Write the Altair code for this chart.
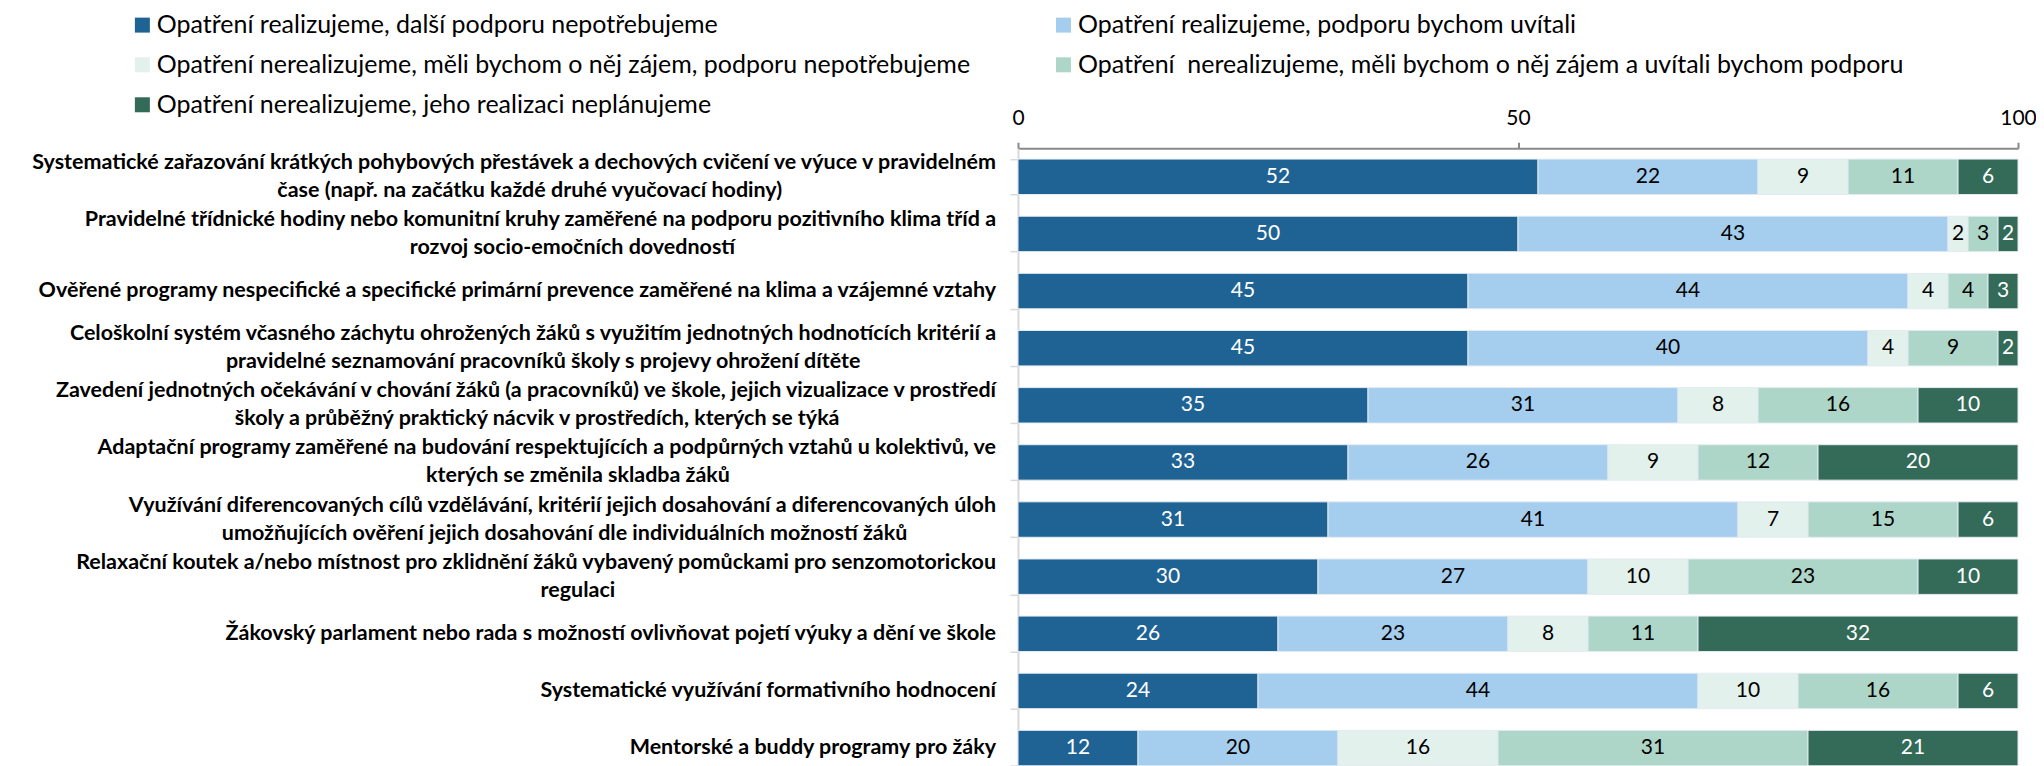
import altair as alt
import pandas as pd

categories = [
    "Systematické zařazování krátkých pohybových přestávek a dechových cvičení ve výuce v pravidelném|čase (např. na začátku každé druhé vyučovací hodiny)",
    "Pravidelné třídnické hodiny nebo komunitní kruhy zaměřené na podporu pozitivního klima tříd a|rozvoj socio-emočních dovedností",
    "Ověřené programy nespecifické a specifické primární prevence zaměřené na klima a vzájemné vztahy",
    "Celoškolní systém včasného záchytu ohrožených žáků s využitím jednotných hodnotících kritérií a|pravidelné seznamování pracovníků školy s projevy ohrožení dítěte",
    "Zavedení jednotných očekávání v chování žáků (a pracovníků) ve škole, jejich vizualizace v prostředí|školy a průběžný praktický nácvik v prostředích, kterých se týká",
    "Adaptační programy zaměřené na budování respektujících a podpůrných vztahů u kolektivů, ve|kterých se změnila skladba žáků",
    "Využívání diferencovaných cílů vzdělávání, kritérií jejich dosahování a diferencovaných úloh|umožňujících ověření jejich dosahování dle individuálních možností žáků",
    "Relaxační koutek a/nebo místnost pro zklidnění žáků vybavený pomůckami pro senzomotorickou|regulaci",
    "Žákovský parlament nebo rada s možností ovlivňovat pojetí výuky a dění ve škole",
    "Systematické využívání formativního hodnocení",
    "Mentorské a buddy programy pro žáky",
]

series = [
    "Opatření realizujeme, další podporu nepotřebujeme",
    "Opatření realizujeme, podporu bychom uvítali",
    "Opatření nerealizujeme, měli bychom o něj zájem, podporu nepotřebujeme",
    "Opatření\u00a0 nerealizujeme, měli bychom o něj zájem a uvítali bychom podporu",
    "Opatření nerealizujeme, jeho realizaci neplánujeme",
]

v_real_ok = [52, 50, 45, 45, 35, 33, 31, 30, 26, 24, 12]
v_real_support = [22, 43, 44, 40, 31, 26, 41, 27, 23, 44, 20]
v_interest_ok = [9, 2, 4, 4, 8, 9, 7, 10, 8, 10, 16]
v_interest_support = [11, 3, 4, 9, 16, 12, 15, 23, 11, 16, 31]
v_not_planned = [6, 2, 3, 2, 10, 20, 6, 10, 32, 6, 21]

colors = ["#1F6395", "#A4CDEE", "#E2F1EC", "#ADD6C9", "#336A58"]
text_colors = ["white", "black", "black", "black", "white"]

all_vals = [v_real_ok, v_real_support, v_interest_ok, v_interest_support, v_not_planned]
rows = []
for i, c in enumerate(categories):
    for j, s in enumerate(series):
        rows.append({"cat": c, "ser": s, "ord": j, "val": all_vals[j][i], "tc": text_colors[j]})
df = pd.DataFrame(rows)


# rough text-width estimate (in em) used only to centre the second line of a
# two-line category label under its first line
def em_width(s):
    w = 0.0
    for ch in s:
        base = ch.lower()
        if ch == " ":
            w += 0.22
        elif base in "iljíĺ":
            w += 0.25
        elif base in "ftrřť":
            w += 0.36
        elif ch in ".,:;":
            w += 0.23
        elif ch in "()/-":
            w += 0.32
        elif base in "mw":
            w += 0.80
        elif ch.isupper():
            w += 0.66
        else:
            w += 0.54
    return w


NBSP_EM = 0.265

lab_rows = []
for c in categories:
    parts = c.split("|")
    if len(parts) == 1:
        lab_rows.append({"cat": c, "l1": parts[0], "l2": "", "two": 0})
    else:
        a, b = parts
        pad = max(0, round((em_width(a) - em_width(b)) / 2 / NBSP_EM))
        lab_rows.append({"cat": c, "l1": a, "l2": b + "\u00a0" * pad + "\u200b", "two": 1})
labdf = pd.DataFrame(lab_rows)

FONT = "Lato"

yaxis = alt.Axis(
    title=None,
    labels=False,
    tickBand="extent",
    tickColor="#D9D9D9",
    tickSize=8,
    tickWidth=1.5,
    domainColor="#D9D9D9",
    domainWidth=2,
)

xaxis = alt.Axis(
    orient="top",
    values=[0, 50, 100],
    title=None,
    grid=False,
    domainColor="#898989",
    domainWidth=2,
    tickColor="#898989",
    tickWidth=2,
    tickSize=6,
    labelFont=FONT,
    labelFontSize=21,
    labelColor="black",
    labelFlush=False,
    labelPadding=14,
)

ysc = alt.Scale(paddingInner=0.38, paddingOuter=0.19)

bars = alt.Chart(df).mark_bar(stroke="#E3EBF1", strokeWidth=1).encode(
    x=alt.X("val:Q", stack="zero", scale=alt.Scale(domain=[0, 100], nice=False), axis=xaxis),
    y=alt.Y("cat:N", sort=categories, scale=ysc, axis=yaxis),
    color=alt.Color(
        "ser:N",
        scale=alt.Scale(domain=series, range=colors),
        sort=series,
        legend=alt.Legend(
            title=None,
            orient="none",
            legendX=-889,
            legendY=-136,
            columns=2,
            direction="horizontal",
            symbolType="square",
            symbolSize=225,
            symbolStrokeWidth=0,
            symbolOpacity=1,
            labelFont=FONT,
            labelFontSize=25,
            labelColor="black",
            labelLimit=1400,
            columnPadding=80,
            rowPadding=14,
            labelOffset=2,
        ),
    ),
    order=alt.Order("ord:Q"),
)

values = alt.Chart(df).transform_window(
    cum="sum(val)", sort=[alt.SortField("ord")], groupby=["cat"], frame=[None, 0]
).transform_calculate(
    mid="datum.cum - datum.val / 2"
).mark_text(font=FONT, fontSize=21).encode(
    x=alt.X("mid:Q"),
    y=alt.Y("cat:N", sort=categories),
    text=alt.Text("val:Q"),
    color=alt.Color("tc:N", scale=None),
)

lab_base = alt.Chart(labdf)
lab_kw = dict(align="right", baseline="middle", font=FONT, fontSize=21.5, fontWeight="bold", color="black", dx=-22, limit=1400)

lab_single = lab_base.transform_filter("datum.two == 0").mark_text(**lab_kw).encode(
    x=alt.datum(0), y=alt.Y("cat:N", sort=categories), text="l1:N"
)
lab_first = lab_base.transform_filter("datum.two == 1").mark_text(dy=-14, **lab_kw).encode(
    x=alt.datum(0), y=alt.Y("cat:N", sort=categories), text="l1:N"
)
lab_second = lab_base.transform_filter("datum.two == 1").mark_text(dy=14, **lab_kw).encode(
    x=alt.datum(0), y=alt.Y("cat:N", sort=categories), text="l2:N"
)

chart = alt.layer(bars, values, lab_single, lab_first, lab_second).properties(
    width=1001,
    height=629,
    autosize=alt.AutoSizeParams(type="none"),
    padding={"left": 1011, "top": 140, "right": 18, "bottom": 5},
).configure_view(stroke=None)

chart.save("out.html", embed_options={"renderer": "svg", "actions": False})
